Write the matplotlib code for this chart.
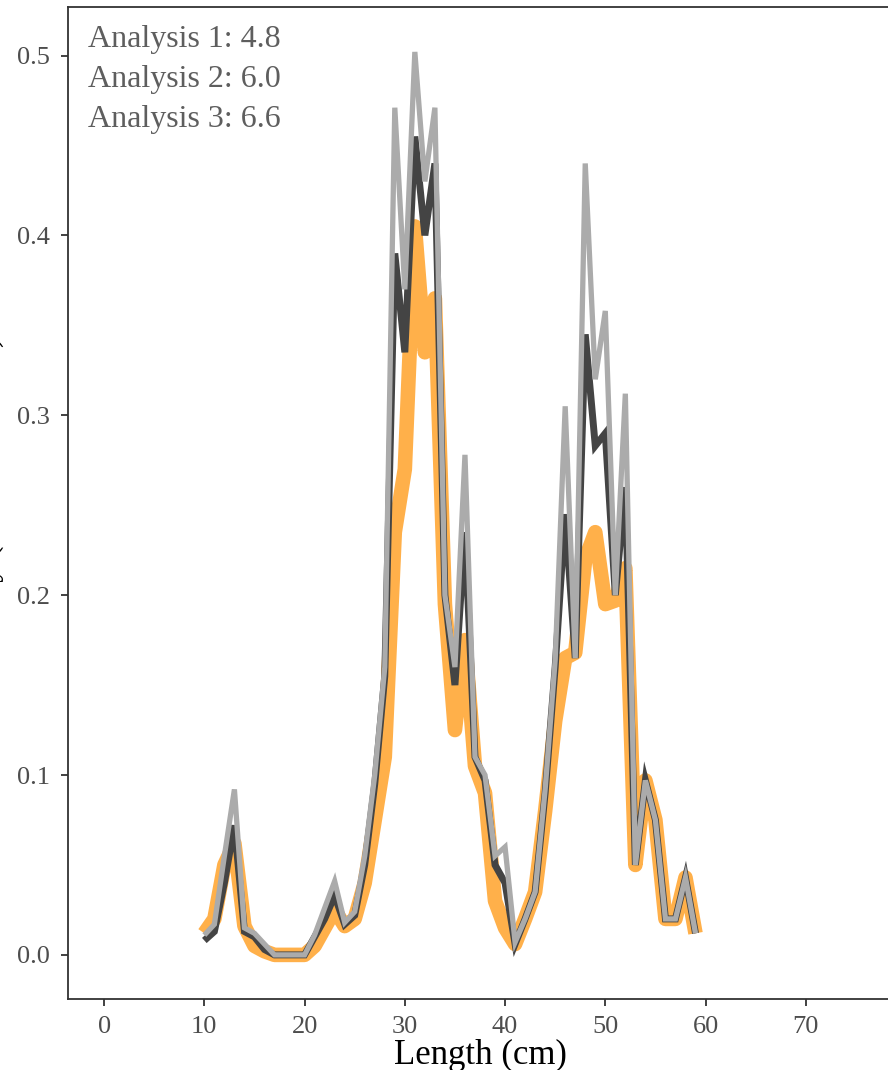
import matplotlib
matplotlib.use("Agg")
import matplotlib.pyplot as plt

# length classes (cm)
length = list(range(10, 60))

# proportion at length
analysis_1 = [0.012, 0.020, 0.050, 0.062, 0.016, 0.005, 0.002, 0.000, 0.000, 0.000,
              0.000, 0.005, 0.015, 0.025, 0.016, 0.020, 0.040, 0.075, 0.110, 0.235,
              0.270, 0.405, 0.335, 0.365, 0.195, 0.125, 0.175, 0.105, 0.090, 0.030,
              0.015, 0.006, 0.020, 0.035, 0.080, 0.130, 0.165, 0.168, 0.220, 0.235,
              0.195, 0.197, 0.215, 0.050, 0.097, 0.075, 0.020, 0.020, 0.043, 0.012]
analysis_2 = [0.008, 0.013, 0.040, 0.072, 0.013, 0.010, 0.003, 0.000, 0.000, 0.000,
              0.000, 0.010, 0.020, 0.033, 0.017, 0.022, 0.050, 0.095, 0.155, 0.390,
              0.335, 0.455, 0.400, 0.440, 0.200, 0.150, 0.235, 0.110, 0.097, 0.050,
              0.040, 0.006, 0.020, 0.035, 0.090, 0.160, 0.245, 0.165, 0.345, 0.283,
              0.290, 0.200, 0.260, 0.050, 0.097, 0.075, 0.020, 0.020, 0.043, 0.012]
analysis_3 = [0.011, 0.017, 0.055, 0.092, 0.015, 0.012, 0.006, 0.000, 0.000, 0.000,
              0.000, 0.011, 0.026, 0.041, 0.018, 0.024, 0.055, 0.100, 0.160, 0.471,
              0.370, 0.502, 0.430, 0.471, 0.200, 0.160, 0.278, 0.110, 0.100, 0.055,
              0.060, 0.007, 0.020, 0.035, 0.092, 0.164, 0.305, 0.165, 0.440, 0.320,
              0.358, 0.200, 0.312, 0.050, 0.097, 0.075, 0.020, 0.020, 0.043, 0.012]

labels = ["Analysis 1: 4.8", "Analysis 2: 6.0", "Analysis 3: 6.6"]
xticks = [0, 10, 20, 30, 40, 50, 60, 70]
yticks = [0.0, 0.1, 0.2, 0.3, 0.4, 0.5]

plt.rcParams['font.family'] = ['Liberation Serif', 'DejaVu Serif']

fig = plt.figure(figsize=(8.88, 10.70), dpi=100)
ax = fig.add_axes([0.0766, 0.0664, 0.9290, 0.9271])

ax.plot(length, analysis_1, color="#FFB04A", lw=10.5, solid_joinstyle="round", solid_capstyle="butt")
ax.plot(length, analysis_2, color="#444444", lw=5.0, solid_joinstyle="miter", solid_capstyle="butt")
ax.plot(length, analysis_3, color="#ABABAB", lw=3.8, solid_joinstyle="miter", solid_capstyle="butt")

ax.set_xlim(-3.6, 78.7)
ax.set_ylim(-0.0245, 0.527)
ax.set_xticks(xticks)
ax.set_yticks(yticks)
ax.set_xticklabels([str(t) for t in xticks])
ax.set_yticklabels(["%.1f" % t for t in yticks])

for s in ax.spines.values():
    s.set_color("#333333")
    s.set_linewidth(1.3)
ax.tick_params(length=5, width=1.3, color="#333333", labelcolor="#4D4D4D",
               labelsize=19)
ax.tick_params(axis="y", pad=8)
ax.tick_params(axis="x", pad=7)

ax.set_xlabel("Length (cm)", fontsize=25, color="black", labelpad=1)
ax.set_ylabel("Density (individuals/cm)", fontsize=24, color="black")
ax.yaxis.set_label_coords(-0.077, 0.5)

for i, lab in enumerate(labels):
    ax.text(0.024, 0.982 - i * 0.0405, lab, transform=ax.transAxes,
            fontsize=23, color="#5E5E5E", va="top", ha="left")

fig.savefig("out.png", dpi=100)
